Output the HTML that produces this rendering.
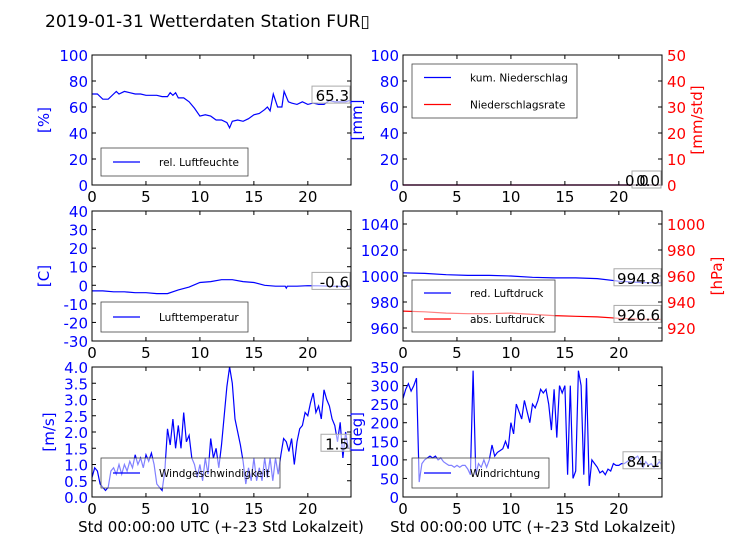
<!DOCTYPE html>
<html><head><meta charset="utf-8"><style>
body{margin:0;background:#fff;}
svg{display:block;font-family:"DejaVu Sans","Liberation Sans",sans-serif;}
</style></head><body>
<svg id="chart" width="736" height="552" viewBox="0 0 736 552" xmlns="http://www.w3.org/2000/svg">
<rect width="736" height="552" fill="#fff"/>
<text x="45" y="27" font-size="17" fill="#000">2019-01-31 Wetterdaten Station FUR▯</text>
</svg>
<script>
// ---- data ----
const humX=[0,0.5,1,1.5,2,2.25,2.5,3,3.5,4,4.5,5,5.5,6,6.5,7,7.25,7.5,7.75,8,8.5,9,9.5,10,10.5,11,11.5,12,12.5,12.75,13,13.5,14,14.5,15,15.5,16,16.25,16.5,16.8,17.2,17.6,17.8,18.2,18.5,19,19.5,20,20.5,21,21.5,22,22.5,23,23.5,24];
const humY=[70,70,66,66,70,72,70,72,71,70,70,69,69,69,68,68,71,69,71,67,67,64,59,53,54,53,50,50,48,44,49,50,49,51,54,55,58,60,57,70,60,60,72,64,63,62,64,62,63,62,62,65,64,64,64,65.3];
const precipX=[0,24];
const precipCum=[0,0];
const precipRate=[0,0];
const tempX=[0,1,2,3,4,5,6,7,8,9,10,11,12,13,14,15,16,17,17.9,18,18.1,19,20,21,22,23,24];
const tempY=[-3,-3,-3.5,-3.5,-4,-4,-4.5,-4.5,-2.5,-1,1.5,2,3,3,2,1.5,0,-0.5,-0.5,-1.5,-0.5,-0.5,-0.2,-0.3,-0.5,-0.6,-0.6];
const presX=[0,2,4,6,8,10,12,14,16,18,20,22,24];
const presRed=[1002.5,1002,1001,1000.5,1000.5,1000,999,998.5,998.5,998,996,995,994.8];
const presAbs=[933,932.5,931.5,931,931,931.5,930.5,929.5,929,928.5,927.5,926.8,926.6];
const windX=[];for(let i=0;i<=96;i++)windX.push(i*0.25);
const windSpeed=[0.6,0.9,0.8,0.4,0.3,0.2,0.3,0.8,0.9,0.7,1.0,0.7,1.0,0.8,1.1,0.9,1.3,1.0,1.2,0.9,1.3,1.1,1.35,1.0,0.4,0.3,0.2,0.8,2.1,1.6,2.4,1.5,2.2,1.5,2.6,1.7,1.9,1.2,1.0,0.6,1.0,0.5,1.2,0.7,1.8,1.2,1.5,0.9,1.6,2.5,3.4,4.0,3.5,2.4,2.0,1.6,1.1,0.4,0.9,0.5,1.2,0.5,0.9,0.5,1.2,0.6,1.2,0.5,1.2,0.7,1.3,1.8,1.7,1.4,1.8,1.0,1.7,2.1,2.2,2.6,2.5,2.9,3.2,2.6,2.8,2.4,3.3,3.0,2.8,2.4,2.2,1.7,2.3,1.2,2.0,1.5,1.5];
const windDir=[265,290,305,285,300,320,40,90,100,105,110,105,110,100,105,95,90,85,85,80,85,80,85,85,75,60,340,60,90,80,100,80,100,140,110,120,125,130,150,130,200,170,250,230,210,260,230,200,250,240,260,290,280,290,250,180,290,160,300,280,300,60,300,50,70,340,300,60,320,30,100,90,80,65,70,60,75,70,90,85,85,90,90,95,100,105,105,110,95,80,95,85,90,80,85,95,84.1];
const xTicks=[0,5,10,15,20];
const humTicks=[0,20,40,60,80,100];
const precipTicks=[0,20,40,60,80,100];
const rateTicks=[0,10,20,30,40,50];
const tempTicks=[-30,-20,-10,0,10,20,30,40];
const presTicks=[960,980,1000,1020,1040];
const absTicks=[920,940,960,980,1000];
const windTicks=[0,0.5,1.0,1.5,2.0,2.5,3.0,3.5,4.0];
const dirTicks=[0,50,100,150,200,250,300,350];

const svg=document.getElementById('chart');
const NS='http://www.w3.org/2000/svg';
function mk(tag,attrs,parent){const e=document.createElementNS(NS,tag);for(const k in attrs)e.setAttribute(k,attrs[k]);(parent||svg).appendChild(e);return e;}
const BLUE='#0000ff',RED='#ff0000';
const FS=14;

function panel(name,x0,x1,y0,y1,ymin,ymax){
  const g=mk('g',{});
  
  
  return {g,x0,x1,y0,y1,
    sx:v=>x0+(v/24)*(x1-x0),
    sy:(v,a,b)=>y1-(v-(a===undefined?ymin:a))/((b===undefined?ymax:b)-(a===undefined?ymin:a))*(y1-y0),
    ymin,ymax};
}
function frame(p){
  const r=mk('rect',{x:p.x0,y:p.y0,width:p.x1-p.x0,height:p.y1-p.y0,fill:'none',stroke:'#000','stroke-width':1},p.g);
  
  
}
function xAxis(p){
  xTicks.forEach(t=>{
    const x=p.sx(t);
    mk('line',{x1:x,x2:x,y1:p.y1,y2:p.y1-4,stroke:'#000'},p.g);
    mk('line',{x1:x,x2:x,y1:p.y0,y2:p.y0+4,stroke:'#000'},p.g);
    const tx=mk('text',{x:x,y:p.y1+17,'font-size':FS+1,'text-anchor':'middle',fill:'#000'},p.g);
    
    
    tx.textContent=t;
  });
}
function yAxis(p,ticks,color,side,a,b,fmt){
  ticks.forEach(t=>{
    const y=p.sy(t,a,b);
    if(side==='left'){
      mk('line',{x1:p.x0,x2:p.x0+4,y1:y,y2:y,stroke:'#000'},p.g);
      if(b===undefined) mk('line',{x1:p.x1,x2:p.x1-4,y1:y,y2:y,stroke:'#000'},p.g);
    } else {
      mk('line',{x1:p.x1,x2:p.x1-4,y1:y,y2:y,stroke:'#000'},p.g);
    }
    const tx=mk('text',{x:side==='left'?p.x0-4:p.x1+5,y:y+6,'font-size':FS+1,'text-anchor':side==='left'?'end':'start',fill:color},p.g);
    
    
    tx.textContent=fmt?fmt(t):t;
  });
}
function line(p,xs,ys,color,name,a,b){
  const d=xs.map((x,i)=>(i?'L':'M')+p.sx(x).toFixed(1)+','+p.sy(ys[i],a,b).toFixed(1)).join('');
  const e=mk('path',{d:d,fill:'none',stroke:color,'stroke-width':1.2},p.g);
  
  
}
function annot(p,val,y){
  const txt=String(val);
  const w=txt.length*9+2;
  const x2=p.x1-1;
  const r=mk('rect',{x:x2-w,y:y-14,width:w,height:17,fill:'#fff','fill-opacity':0.6,stroke:'#aaa'},p.g);
  
  
  const t=mk('text',{x:x2-1,y:y+1,'font-size':FS+1,'text-anchor':'end',fill:'#000'},p.g);
  
  
  t.textContent=txt;
}
function legend(p,x,y,w,h,entries){
  const g=mk('g',{},p.g);
  
  
  mk('rect',{x:x,y:y,width:w,height:h,fill:'#fff','fill-opacity':0.5,stroke:'#444','stroke-width':0.8},g);
  entries.forEach((en,i)=>{
    const yy=y+h/(entries.length)*(i+0.5);
    mk('line',{x1:x+12,x2:x+39,y1:yy,y2:yy,stroke:en[1],'stroke-width':1.2},g);
    const t=mk('text',{x:x+58,y:yy+4,'font-size':10.5,fill:'#000'},g);
    
    
    t.textContent=en[0];
  });
}
function vlabel(x,y,txt,color,name){
  const t=mk('text',{x:x,y:y,'font-size':FS+1,fill:color,'text-anchor':'middle',transform:`rotate(-90 ${x} ${y})`});
  
  
  t.textContent=txt;
}

let p=panel('humidity-panel',92,351,55,185,0,100);
line(p,humX,humY,BLUE,'humidity-line');
frame(p);xAxis(p);yAxis(p,humTicks,BLUE,'left');
legend(p,101,148,147,28,[['rel. Luftfeuchte',BLUE]]);
annot(p,humY[humY.length-1],p.sy(humY[humY.length-1]));
vlabel(49,120,'[%]',BLUE,'humidity-y-title');

p=panel('precipitation-panel',403,662,55,185,0,100);
line(p,precipX,precipCum,BLUE,'precip-cumulative-line');
line(p,precipX,precipRate,RED,'precip-rate-line',0,50);
frame(p);xAxis(p);yAxis(p,precipTicks,BLUE,'left');yAxis(p,rateTicks,RED,'right',0,50);
legend(p,412,64,165,54,[['kum. Niederschlag',BLUE],['Niederschlagsrate',RED]]);
annot(p,'0.0',p.sy(0));
const a2=mk('text',{x:625,y:186,'font-size':FS+1,fill:'#000'},p.g);a2.textContent='0.0';


vlabel(362,120,'[mm]',BLUE,'precip-y-title');
vlabel(702,120,'[mm/std]',RED,'precip-rate-y-title');

p=panel('temperature-panel',92,351,211,341,-30,40);
line(p,tempX,tempY,BLUE,'temperature-line');
frame(p);xAxis(p);yAxis(p,tempTicks,BLUE,'left');
legend(p,101,302,147,30,[['Lufttemperatur',BLUE]]);
annot(p,tempY[tempY.length-1],p.sy(tempY[tempY.length-1]));
vlabel(49,276,'[C]',BLUE,'temperature-y-title');

p=panel('pressure-panel',403,662,211,341,950,1050);
line(p,presX,presRed,BLUE,'reduced-pressure-line');
line(p,presX,presAbs,RED,'absolute-pressure-line',910,1010);
frame(p);xAxis(p);yAxis(p,presTicks,BLUE,'left');yAxis(p,absTicks,RED,'right',910,1010);
legend(p,412,280,143,52,[['red. Luftdruck',BLUE],['abs. Luftdruck',RED]]);
annot(p,presRed[presRed.length-1],p.sy(presRed[presRed.length-1]));
annot(p,presAbs[presAbs.length-1],p.sy(presAbs[presAbs.length-1],910,1010));
vlabel(722,276,'[hPa]',RED,'pressure-y-title');

p=panel('wind-speed-panel',92,351,367,497,0,4);
line(p,windX,windSpeed,BLUE,'wind-speed-line');
frame(p);xAxis(p);yAxis(p,windTicks,BLUE,'left',undefined,undefined,v=>v.toFixed(1));
legend(p,101,458,179,30,[['Windgeschwindigkeit',BLUE]]);
annot(p,windSpeed[windSpeed.length-1],p.sy(windSpeed[windSpeed.length-1]));
vlabel(54,432,'[m/s]',BLUE,'wind-speed-y-title');

p=panel('wind-direction-panel',403,662,367,497,0,350);
line(p,windX,windDir,BLUE,'wind-direction-line');
frame(p);xAxis(p);yAxis(p,dirTicks,BLUE,'left');
legend(p,412,458,137,30,[['Windrichtung',BLUE]]);
annot(p,windDir[windDir.length-1],p.sy(windDir[windDir.length-1]));
vlabel(362,432,'[deg]',BLUE,'wind-direction-y-title');

[[221,'x-axis-title-left'],[533,'x-axis-title-right']].forEach(([x,n])=>{
  const t=mk('text',{x:x,y:532,'font-size':FS+1,'text-anchor':'middle',fill:'#000'});
  
  
  t.textContent='Std 00:00:00 UTC (+-23 Std Lokalzeit)';
});
</script>
</body></html>
